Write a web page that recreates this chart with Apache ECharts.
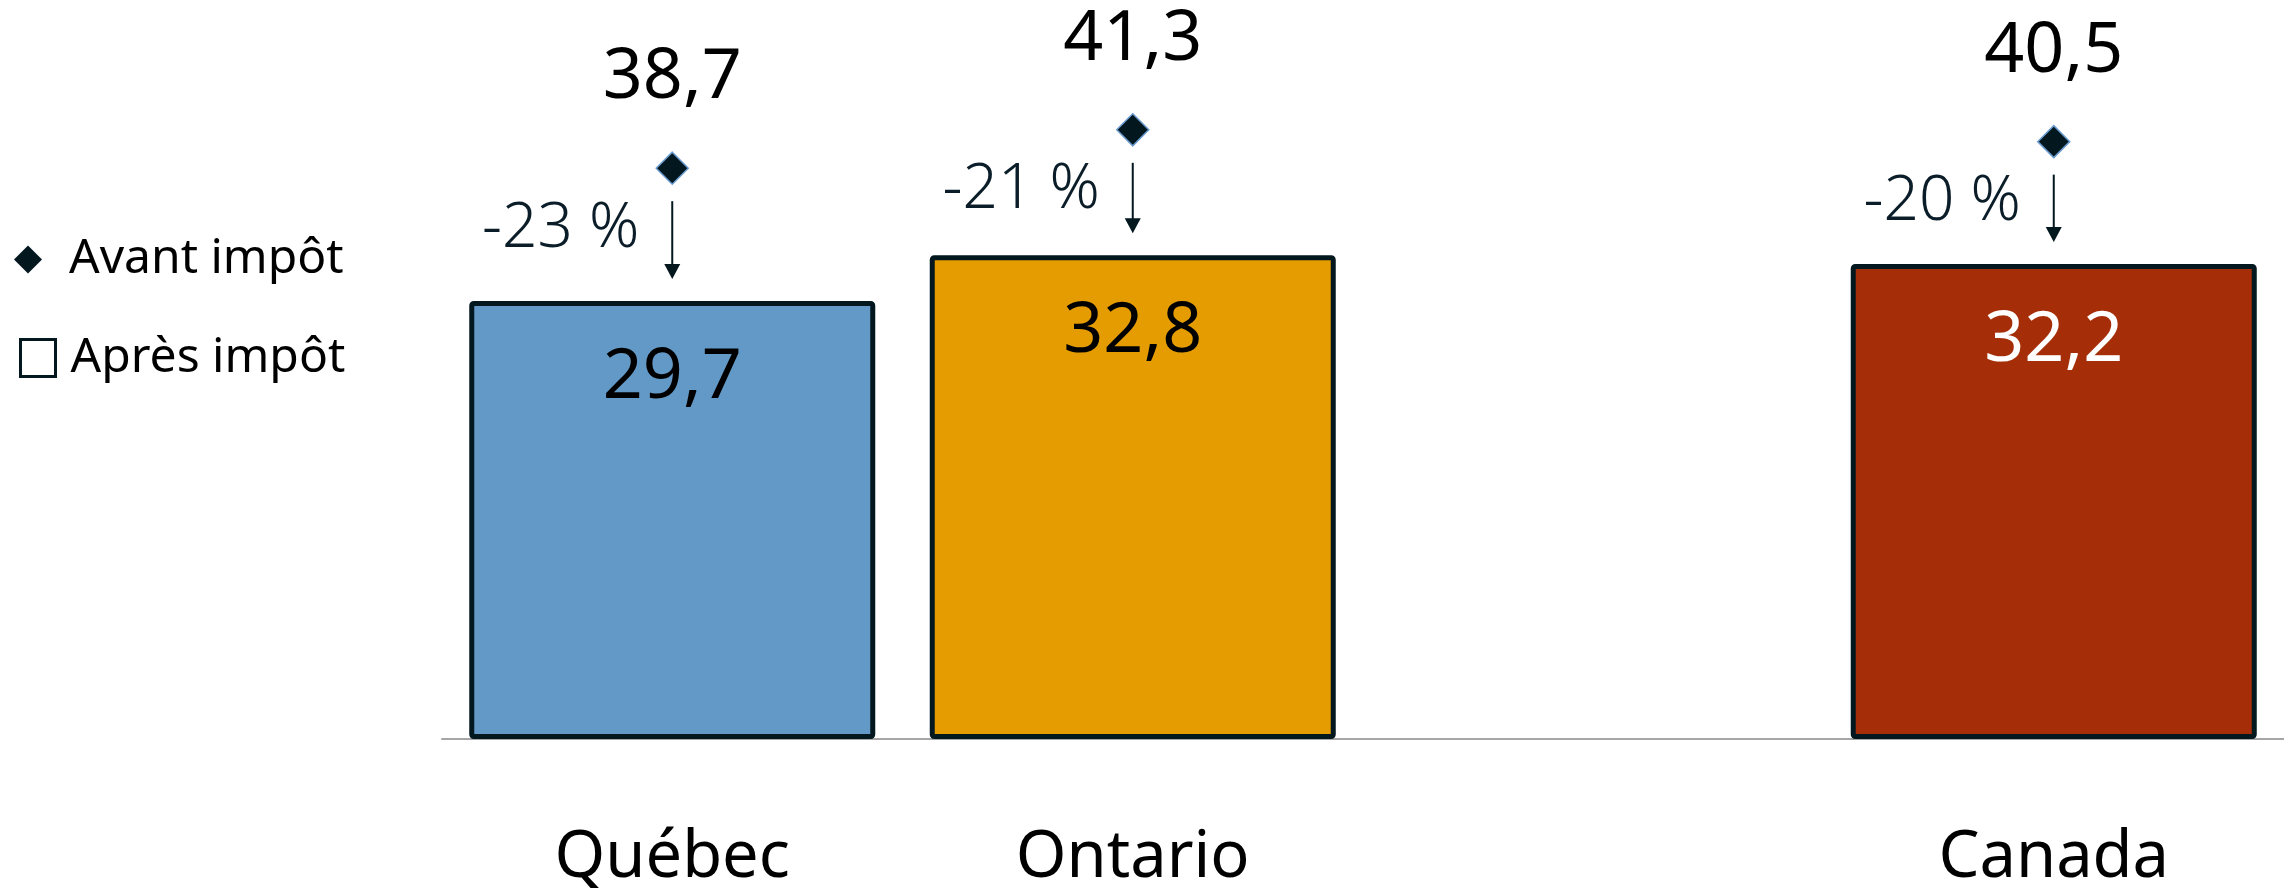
<!DOCTYPE html>
<html>
<head>
<meta charset="utf-8">
<script src="https://cdn.jsdelivr.net/npm/echarts@6/dist/echarts.min.js"></script>
<style>
  html, body { margin: 0; padding: 0; background: #fff; }
  #chart { width: 2284px; height: 891px; }
</style>
</head>
<body>
<div id="chart"></div>
<script>
// la catégorie vide laisse l'espace avant Canada
const categories = ['Québec', 'Ontario', '', 'Canada']
const avantImpot = [38.7, 41.3, null, 40.5]
const apresImpot = [29.7, 32.8, null, 32.2]
const ecartLabels = ['-23 %', '-21 %', '', '-20 %']

const barColors = ['#6399c7', '#e59c00', '#ffffff', '#a52e08']
const barLabelColors = ['#000', '#000', '#000', '#fff']
const dark = '#03171f'
const font = 'Noto Sans'

const fmt = v => v.toFixed(1).replace('.', ',')

const myChart = echarts.init(document.getElementById('chart'))

const option = {
  animation: false,
  textStyle: { fontFamily: font },
  grid: { left: 442, width: 1848, top: 1.5, bottom: 147 },
  legend: [
    {
      data: [{ name: 'Avant impôt', icon: 'diamond', itemStyle: { color: dark, borderWidth: 0 } }],
      selectedMode: false,
      left: 14,
      top: 228,
      padding: 0,
      itemWidth: 28,
      itemHeight: 28,
      textStyle: { fontSize: 48, lineHeight: 48, color: '#000', padding: [0, 0, 15, 22] }
    },
    {
      data: [{ name: 'Après impôt', icon: 'rect', itemStyle: { color: '#fff', borderColor: dark, borderWidth: 3 } }],
      selectedMode: false,
      left: 19,
      top: 333,
      padding: 0,
      itemWidth: 35,
      itemHeight: 37,
      textStyle: { fontSize: 48, lineHeight: 48, color: '#000', padding: [0, 0, 2, 10] }
    }
  ],
  xAxis: {
    type: 'category',
    data: categories,
    axisTick: { show: false },
    axisLine: { lineStyle: { color: '#a6a6a6', width: 2 } },
    axisLabel: { fontSize: 65, lineHeight: 65, color: '#000', margin: 87, interval: 0 }
  },
  yAxis: {
    type: 'value',
    min: 0,
    max: 50,
    show: false
  },
  series: [
    {
      name: 'Après impôt',
      type: 'bar',
      barWidth: 406,
      z: 2,
      itemStyle: { borderColor: dark, borderWidth: 5, borderRadius: 2 },
      label: {
        show: true,
        position: 'insideTop',
        distance: 42,
        fontSize: 70,
        lineHeight: 70,
        formatter: p => fmt(p.value)
      },
      data: apresImpot.map((v, i) => v == null ? '-' : {
        value: v,
        itemStyle: { color: barColors[i] },
        label: { color: barLabelColors[i] }
      })
    },
    {
      name: 'Avant impôt',
      type: 'scatter',
      symbol: 'diamond',
      symbolSize: 32,
      z: 4,
      itemStyle: { color: dark, borderColor: '#6a9bcf', borderWidth: 1.5, opacity: 1 },
      label: {
        show: true,
        position: 'top',
        distance: 38,
        fontSize: 70,
        lineHeight: 70,
        color: '#000',
        formatter: p => fmt(p.value)
      },
      data: avantImpot.map(v => v == null ? '-' : v)
    },
    {
      // flèches et écarts en %
      name: 'ecart',
      type: 'custom',
      z: 3,
      data: categories.map((c, i) => [i, avantImpot[i], apresImpot[i]]).filter(d => d[1] != null),
      renderItem (params, api) {
        const i = api.value(0)
        const top = api.coord([i, api.value(1)])
        const bot = api.coord([i, api.value(2)])
        const x = top[0]
        const y1 = top[1] + 33
        const y2 = bot[1] - 22
        return {
          type: 'group',
          children: [
            { type: 'line', shape: { x1: x, y1: y1, x2: x, y2: y2 - 12 }, style: { stroke: dark, lineWidth: 2 } },
            { type: 'polygon', shape: { points: [[x - 8, y2 - 15], [x + 8, y2 - 15], [x, y2]] }, style: { fill: dark } },
            {
              type: 'text',
              style: {
                x: x - 33,
                y: top[1] + 61,
                text: ecartLabels[i],
                align: 'right',
                verticalAlign: 'middle',
                fontSize: 62,
                fontWeight: 300,
                fontFamily: font,
                fill: '#0b1d28'
              }
            }
          ]
        }
      }
    }
  ]
}

myChart.setOption(option)
</script>
</body>
</html>
